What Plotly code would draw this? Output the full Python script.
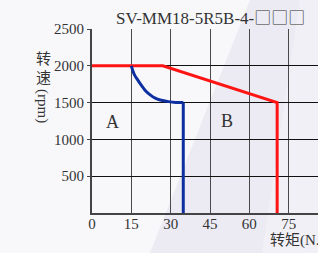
import plotly.graph_objects as go

# Data
red_x = [0, 27, 70.6, 70.6]
red_y = [2000, 2000, 1500, 0]
blue_curve_x = [15, 15.6, 16.3, 17.1, 18.5, 20.3, 22.2, 24.1, 26, 29.2, 32, 34.8]
blue_curve_y = [2000, 1930, 1870, 1825, 1750, 1665, 1605, 1560, 1535, 1513, 1503, 1500]
blue_drop_x = [34.8, 34.8]
blue_drop_y = [1500, 0]
x_ticks = [0, 15, 30, 45, 60, 75]
y_ticks = [500, 1000, 1500, 2000, 2500]
title_main = "SV-MM18-5R5B-4-"
title_boxes = "□□□"
region_labels = ["A", "B"]
region_x = [8, 51.4]
region_y = [1236, 1254]

W, H = 318, 253
L, R, T, B = 92, 0, 29, 40
PW, PH = W - L - R, H - T - B
px_per_unit = (288.7 - 92) / 75
x_max = PW / px_per_unit

SERIF = "Liberation Serif, Noto Sans CJK SC, serif"
CJK = "Noto Sans CJK SC"
TXT = "#333333"

fig = go.Figure()

fig.add_trace(go.Scatter(x=red_x, y=red_y, mode="lines",
                         line=dict(color="#FF1414", width=3), showlegend=False))
fig.add_trace(go.Scatter(x=blue_curve_x, y=blue_curve_y, mode="lines",
                         line=dict(color="#0D2FA0", width=3, shape="spline", smoothing=0.6),
                         showlegend=False))
fig.add_trace(go.Scatter(x=blue_drop_x, y=blue_drop_y, mode="lines",
                         line=dict(color="#0D2FA0", width=3), showlegend=False))

def px(xp):
    return (xp - L) / PW

def py(yp):
    return (H - B - yp) / PH

title_html = f"{title_main}<span style='font-family:{CJK};font-weight:300'>{title_boxes}</span>"

def ann(text, x, y, size, xanchor="center", angle=0):
    return dict(text=text, x=x, y=y, xref="paper", yref="paper",
                xanchor=xanchor, yanchor="middle", showarrow=False, textangle=angle,
                font=dict(family=SERIF, size=size, color=TXT))

annotations = [
    ann(title_html, px(210), py(16), 17),
    ann("转矩(N.m)", px(268), py(240), 15, xanchor="left"),
    ann("转", px(43), py(59), 15),
    ann("速", px(43), py(78), 15),
    ann("(rpm)", px(43), py(106), 15, angle=90),
]
for lab, xx, yy in zip(region_labels, region_x, region_y):
    annotations.append(dict(text=lab, x=xx, y=yy, xref="x", yref="y", showarrow=False,
                            xanchor="center", yanchor="middle",
                            font=dict(family=SERIF, size=18, color=TXT)))

shapes = [
    dict(type="path", xref="paper", yref="paper", layer="below",
         path=f"M {px(250)} {py(0)} L {px(W)} {py(0)} L {px(W)} {py(H)} L {px(150)} {py(H)} Z",
         fillcolor="#ECEBF3", line=dict(width=0)),
    dict(type="path", xref="paper", yref="paper", layer="below",
         path=f"M {px(300)} {py(0)} L {px(W)} {py(0)} L {px(W)} {py(H)} L {px(262)} {py(H)} Z",
         fillcolor="#F1F0F6", line=dict(width=0)),
]

fig.update_layout(
    width=W, height=H,
    margin=dict(l=L, r=R, t=T, b=B, pad=0),
    paper_bgcolor="#F8F8FB",
    plot_bgcolor="rgba(0,0,0,0)",
    annotations=annotations,
    shapes=shapes,
    showlegend=False,
)
fig.update_xaxes(range=[0, x_max], tickvals=x_ticks, ticktext=[str(v) for v in x_ticks],
                 showgrid=True, gridcolor="#4A4A4A", gridwidth=1.3,
                 showline=True, linecolor="#444444", linewidth=2,
                 zeroline=False, ticks="", ticklen=0, ticklabeloverflow="allow",
                 ticklabelstandoff=-4,
                 tickfont=dict(family=SERIF, size=15, color=TXT))
fig.update_yaxes(range=[0, 2500], tickvals=y_ticks, ticktext=[str(v) for v in y_ticks],
                 showgrid=True, gridcolor="#111111", gridwidth=1.3,
                 showline=True, linecolor="#444444", linewidth=2,
                 zeroline=False, ticks="outside", ticklen=3, tickcolor="#444444",
                 tickfont=dict(family=SERIF, size=15, color=TXT))

fig.write_html("out.html", config={"displayModeBar": False},
               post_script="document.body.style.margin='0';document.body.style.overflow='hidden';")
